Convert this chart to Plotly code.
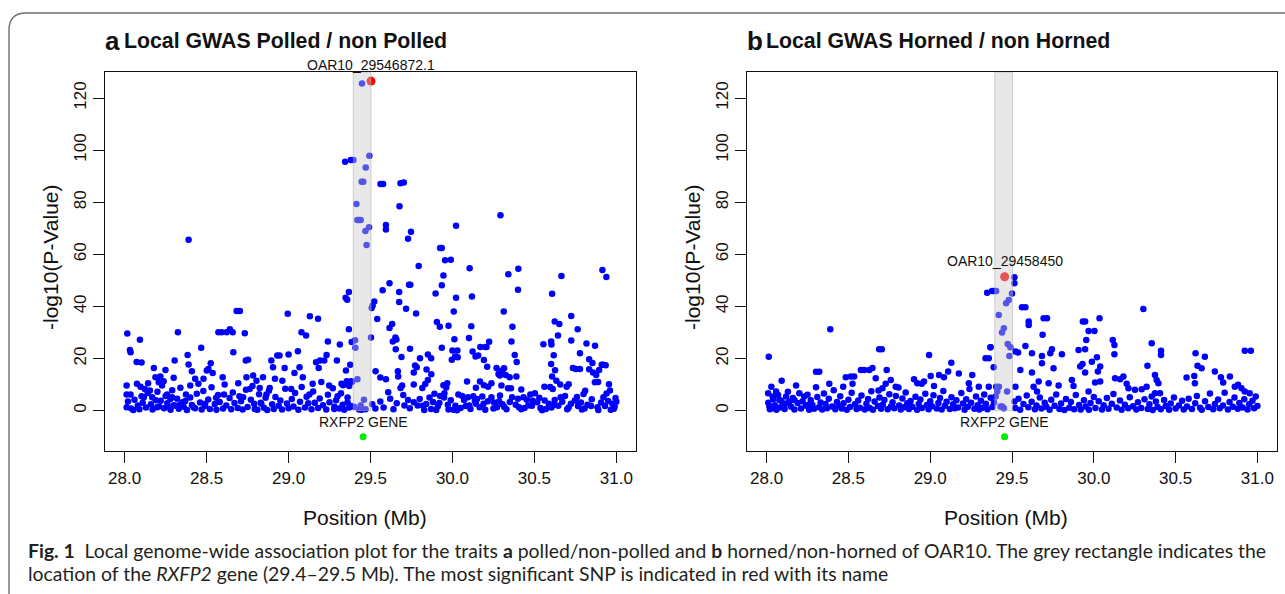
import plotly.graph_objects as go

W, H = 1285, 594

# ---------------- data (Position in Mb, -log10 P) ----------------
polled_points = [
    (28.016, 29.6), (28.032, 23.3), (28.036, 22.4), (28.093, 27.2), (28.073, 18.7), (28.103, 18.5),
    (28.012, 9.6), (28.012, 6.2), (28.036, 6.2), (28.012, 1.3), (28.053, 0.2), (28.075, 10.3),
    (28.097, 9.2), (28.103, 5.5), (28.117, 5.1), (28.123, 8.3), (28.143, 10.5), (28.154, 7.7),
    (28.168, 5.1), (28.178, 16.4), (28.188, 12.8), (28.198, 1.3), (28.208, 10.9), (28.218, 13.1),
    (28.228, 9.6), (28.238, 11.3), (28.249, 15.6), (28.259, 6.2), (28.269, 1.3), (28.279, 4.5),
    (28.289, 5.1), (28.299, 12.6), (28.305, 19.2), (28.313, 1.9), (28.325, 30.1), (28.339, 2.3),
    (28.353, 3.2), (28.374, 6.2), (28.384, 21.4), (28.390, 17.7), (28.400, 9.6), (28.410, 15.1),
    (28.420, 1.3), (28.430, 12.2), (28.450, 10.3), (28.467, 24.1), (28.481, 12.2), (28.491, 2.6),
    (28.501, 15.4), (28.511, 16.0), (28.525, 18.2), (28.537, 14.4), (28.558, 4.9), (28.572, 30.1),
    (28.592, 30.1), (28.598, 12.8), (28.606, 6.2), (28.622, 30.1), (28.642, 31.2), (28.659, 30.1),
    (28.663, 22.4), (28.683, 38.2), (28.703, 38.2), (28.693, 10.5), (28.723, 5.1), (28.733, 29.7),
    (28.739, 19.2), (28.743, 12.8), (28.753, 19.5), (28.763, 8.3), (28.784, 13.5), (28.794, 0.6),
    (28.804, 11.5), (28.824, 8.7), (28.834, 2.6), (28.844, 12.8), (28.865, 6.2), (28.885, 8.7),
    (28.895, 19.2), (28.905, 16.7), (28.917, 12.2), (28.931, 21.2), (28.945, 21.2), (28.962, 11.5),
    (28.976, 16.4), (28.995, 37.2), (29.000, 21.5), (29.016, 8.3), (29.036, 14.4), (29.057, 22.8),
    (29.067, 16.7), (29.079, 30.1), (29.107, 28.8), (29.087, 12.8), (29.130, 36.2), (29.127, 6.2),
    (29.147, 10.3), (29.180, 35.3), (29.168, 18.6), (29.184, 16.4), (29.192, 19.2), (29.218, 19.2),
    (29.232, 21.4), (29.240, 26.5), (29.248, 9.6), (29.279, 0.6), (29.295, 19.2), (29.299, 5.5),
    (29.313, 25.4), (29.323, 10.3), (29.348, 43.3), (29.358, 42.6), (29.368, 45.5), (29.368, 31.2),
    (29.360, 3.2), (29.350, 15.4), (29.376, 17.6), (29.380, 11.3), (29.385, 26.3),
    (28.390, 65.6), (29.345, 95.5), (29.380, 96.2), (29.396, 96.2),
    # dense low band 28.0-29.4
    (28.02, 3.5), (28.04, 0.8), (28.06, 4.2), (28.08, 2.0), (28.09, 0.5), (28.11, 3.0), (28.13, 1.2),
    (28.14, 6.8), (28.16, 2.4), (28.17, 0.4), (28.19, 4.0), (28.20, 7.2), (28.21, 1.6), (28.22, 3.8),
    (28.24, 0.9), (28.25, 5.6), (28.26, 2.8), (28.28, 0.3), (28.29, 7.8), (28.30, 2.1), (28.32, 4.6),
    (28.33, 0.7), (28.34, 8.8), (28.36, 1.5), (28.37, 3.7), (28.38, 0.2), (28.40, 5.0), (28.41, 2.2),
    (28.43, 0.9), (28.44, 6.5), (28.46, 3.1), (28.47, 0.4), (28.48, 7.5), (28.49, 1.8), (28.51, 4.3),
    (28.52, 0.6), (28.53, 9.0), (28.55, 2.5), (28.56, 0.3), (28.57, 6.0), (28.58, 3.3), (28.60, 0.8),
    (28.61, 10.0), (28.62, 2.0), (28.64, 4.8), (28.65, 0.5), (28.66, 7.0), (28.67, 2.9), (28.69, 1.0),
    (28.70, 5.5), (28.71, 3.6), (28.72, 0.4), (28.74, 8.0), (28.75, 1.4), (28.77, 4.2), (28.78, 9.5),
    (28.79, 2.6), (28.81, 0.3), (28.82, 6.3), (28.83, 3.0), (28.85, 1.1), (28.86, 4.9), (28.87, 0.2),
    (28.88, 7.6), (28.90, 2.4), (28.91, 0.6), (28.92, 5.2), (28.94, 1.9), (28.95, 3.9), (28.96, 0.4),
    (28.98, 8.4), (28.99, 2.7), (29.00, 0.9), (29.02, 4.5), (29.03, 1.6), (29.04, 6.8), (29.06, 0.3),
    (29.07, 3.4), (29.08, 9.1), (29.10, 1.2), (29.11, 5.3), (29.12, 2.8), (29.14, 0.5), (29.15, 7.3),
    (29.16, 3.0), (29.18, 1.0), (29.19, 4.7), (29.20, 11.0), (29.21, 2.1), (29.23, 0.4), (29.24, 6.1),
    (29.25, 3.2), (29.27, 8.6), (29.28, 1.5), (29.29, 4.0), (29.31, 0.8), (29.32, 6.7), (29.33, 2.3),
    (29.34, 0.3), (29.36, 5.0), (29.37, 1.2),
    # gene region
    (29.448, 125.6), (29.491, 70.4), (29.469, 69.0), (29.476, 63.6), (29.471, 93.3), (29.493, 97.8),
    (29.446, 87.9), (29.456, 87.9), (29.414, 79.3), (29.430, 73.2), (29.440, 73.2), (29.420, 73.2),
    (29.406, 27.0), (29.408, 24.1), (29.460, 4.2), (29.400, 1.5), (29.430, 0.4), (29.446, 0.3),
    (29.380, 1.8), (29.440, 2.0), (29.470, 0.5), (29.420, 12.0),
    # 29.5 - 31.0
    (29.561, 87.0), (29.577, 87.0), (29.683, 87.3), (29.703, 87.6), (29.677, 78.5), (30.293, 75.0),
    (29.594, 71.3), (29.594, 69.5), (29.747, 68.7), (29.729, 66.0), (30.022, 71.0), (29.925, 62.4),
    (29.935, 62.4), (29.955, 57.7), (29.990, 57.9), (29.794, 55.5), (30.105, 54.7), (30.341, 52.4),
    (30.402, 54.5), (30.400, 46.4), (30.665, 51.7), (30.915, 54.0), (30.939, 51.3), (29.945, 51.9),
    (29.935, 48.1), (29.897, 45.0), (30.119, 43.8), (30.022, 43.3), (29.616, 48.9), (29.574, 46.2),
    (29.735, 48.3), (29.743, 48.3), (29.675, 45.5), (29.675, 41.7), (29.717, 39.1), (29.778, 37.3),
    (29.523, 41.9), (29.513, 40.4), (29.507, 39.4), (29.541, 35.2), (30.608, 44.9), (30.313, 38.1),
    (30.725, 36.3), (30.008, 38.1), (29.905, 34.0), (29.923, 32.2), (29.976, 32.6), (30.115, 32.4),
    (30.366, 32.2), (30.624, 34.2), (30.652, 33.3), (30.764, 31.2), (29.632, 33.3), (29.616, 31.7),
    (29.503, 28.1), (30.012, 27.4), (30.101, 27.9), (30.224, 26.4), (30.208, 24.4), (30.360, 26.5),
    (30.644, 28.8), (30.725, 26.9), (30.818, 25.8), (30.870, 24.9), (30.555, 25.5), (30.602, 26.5),
    (30.604, 25.4), (29.652, 28.1), (29.636, 26.5), (29.658, 27.3), (29.654, 23.6), (29.741, 23.8),
    (29.935, 24.1), (30.000, 23.1), (30.030, 23.1), (30.016, 20.8), (29.996, 19.5), (30.032, 20.5),
    (30.123, 22.7), (30.141, 20.8), (30.157, 21.2), (30.170, 24.4), (30.200, 24.4), (30.380, 21.4),
    (30.392, 18.7), (30.618, 21.3), (30.602, 17.9), (30.778, 22.0), (30.834, 19.7), (30.854, 18.3),
    (30.919, 17.6), (30.935, 17.4), (29.689, 20.6), (29.802, 20.1), (29.850, 21.5), (29.870, 20.1),
    (29.772, 17.3), (29.782, 16.7), (29.842, 15.8), (29.871, 14.0), (30.192, 19.4), (30.212, 16.8),
    (30.269, 16.4), (30.303, 15.4), (30.315, 16.3), (30.289, 13.5), (30.281, 14.1), (30.325, 13.7),
    (30.349, 12.8), (30.390, 13.1), (30.626, 15.5), (30.608, 13.1), (30.634, 11.5), (30.735, 16.4),
    (30.753, 16.0), (30.778, 16.0), (30.834, 15.9), (30.858, 14.6), (30.877, 13.7), (30.895, 15.6),
    (30.911, 17.6), (30.869, 10.9), (30.889, 11.0), (29.531, 15.1), (29.560, 12.7), (29.594, 12.0),
    (29.667, 15.1), (29.669, 13.1), (29.764, 14.6), (29.764, 10.0), (29.850, 11.8), (29.834, 10.2),
    (29.816, 8.7), (29.945, 9.7), (29.968, 10.5), (29.962, 8.9), (30.089, 11.2), (30.143, 8.8),
    (30.168, 11.2), (30.192, 9.7), (30.218, 9.2), (30.238, 10.5), (30.299, 9.6), (30.339, 8.6),
    (30.357, 8.6), (30.420, 8.1), (30.561, 9.2), (30.596, 9.1), (30.612, 8.3), (30.658, 10.0),
    (30.697, 9.2), (30.709, 10.1), (30.810, 7.6), (30.800, 6.4), (30.955, 10.1), (30.961, 7.7),
    (29.693, 9.6), (29.683, 8.7), (29.608, 7.1), (29.333, 9.7), (29.355, 11.3), (29.370, 9.5),
    (29.388, 11.1), (29.511, 2.4), (29.707, 2.0), (29.729, 4.1), (29.764, 3.2), (29.788, 2.0),
    (29.820, 1.9), (29.828, 0.2), (29.860, 5.0), (29.881, 3.3), (29.901, 0.2), (29.911, 1.7),
    (29.925, 5.6), (29.951, 6.7), (29.949, 5.0), (29.972, 2.3), (29.976, 0.4), (30.006, 0.3),
    (30.018, 1.9), (30.028, 0.1), (30.036, 6.2), (30.060, 5.6), (30.071, 4.1), (30.081, 1.8),
    (30.095, 5.1), (30.103, 2.0), (30.127, 5.5), (30.137, 3.7), (30.143, 2.6), (30.166, 1.3),
    (30.182, 5.4), (30.190, 2.6), (30.216, 3.6), (30.238, 5.1), (30.254, 3.1), (30.271, 1.3),
    (30.285, 3.6), (30.305, 2.4), (30.315, 1.5), (30.364, 5.1), (30.386, 2.3), (30.406, 1.3),
    (30.420, 0.5), (30.434, 5.1), (30.454, 4.2), (30.463, 2.0), (30.475, 6.2), (30.485, 1.9),
    (30.503, 6.7), (30.517, 3.2), (30.537, 1.0), (30.547, 0.1), (30.563, 3.9), (30.588, 2.6),
    (30.604, 1.2), (30.624, 4.1), (30.646, 1.9), (30.660, 5.1), (30.687, 5.6), (30.709, 1.2),
    (30.723, 2.6), (30.747, 3.9), (30.766, 1.8), (30.784, 3.1), (30.806, 0.8), (30.824, 2.3),
    (30.846, 1.8), (30.885, 1.3), (30.907, 3.1), (30.921, 5.1), (30.931, 1.8), (30.950, 3.7),
    (30.966, 0.3), (30.976, 2.6),
    (29.53, 0.8), (29.56, 3.5), (29.58, 1.2), (29.62, 4.6), (29.64, 0.5), (29.66, 2.8), (29.70, 6.0),
    (29.74, 0.9), (29.80, 4.5), (29.84, 2.5), (29.87, 0.6), (29.89, 6.5), (29.92, 2.9), (29.99, 4.0),
    (30.05, 1.0), (30.11, 0.6), (30.15, 4.5), (30.20, 0.3), (30.25, 0.8), (30.29, 5.8), (30.33, 0.5),
    (30.35, 3.3), (30.40, 4.6), (30.44, 1.0), (30.49, 3.8), (30.53, 4.9), (30.57, 0.6), (30.62, 2.2),
    (30.67, 3.4), (30.70, 0.5), (30.76, 5.2), (30.79, 0.4), (30.85, 4.4), (30.89, 0.2), (30.94, 6.6),
    (30.99, 1.5), (31.00, 3.4), (30.995, 4.8), (30.985, 0.7),
]
polled_top_snp = ("OAR10_29546872.1", 29.503, 126.5)

horned_points = [
    (28.013, 20.7), (28.092, 11.5), (28.029, 9.2), (28.009, 6.7), (28.037, 5.4), (28.058, 7.3),
    (28.078, 4.1), (28.098, 2.2), (28.017, 1.6), (28.047, 0.9), (28.119, 5.4), (28.139, 3.5),
    (28.18, 9.6), (28.20, 6.7), (28.17, 4.1), (28.23, 5.4), (28.25, 2.2), (28.302, 14.9),
    (28.322, 14.9), (28.302, 9.0), (28.389, 31.2), (28.383, 10.3), (28.468, 9.2), (28.484, 12.8),
    (28.515, 13.1), (28.535, 13.1), (28.525, 10.3), (28.576, 15.6), (28.596, 15.6), (28.627, 15.6),
    (28.647, 16.4), (28.667, 12.4), (28.684, 7.7), (28.688, 23.6), (28.704, 23.6), (28.734, 15.6),
    (28.759, 11.8), (28.728, 10.3), (28.708, 8.6), (28.789, 9.2), (28.806, 8.9), (28.901, 12.0),
    (28.921, 10.5), (28.948, 10.3), (28.962, 11.2), (28.993, 21.4), (29.003, 13.3), (29.023, 9.5),
    (29.054, 13.7), (29.084, 12.8), (29.110, 15.0), (29.129, 18.4), (29.175, 14.3), (29.236, 10.5),
    (29.257, 13.7), (29.297, 9.2), (29.338, 20.1), (29.358, 20.1), (29.369, 24.3), (29.348, 45.3),
    (29.389, 45.9), (29.399, 45.9), (29.420, 9.2), (29.410, 7.3), (29.440, 1.6),
    (28.01, 3.0), (28.02, 0.5), (28.04, 4.4), (28.05, 2.1), (28.06, 0.3), (28.07, 6.0), (28.08, 1.2),
    (28.09, 3.8), (28.11, 0.6), (28.12, 2.7), (28.13, 7.2), (28.15, 1.5), (28.16, 4.8), (28.17, 0.4),
    (28.19, 2.9), (28.21, 0.8), (28.22, 3.6), (28.24, 1.9), (28.25, 6.1), (28.26, 0.3), (28.27, 4.0),
    (28.28, 2.2), (28.29, 0.7), (28.31, 5.2), (28.32, 1.3), (28.33, 3.1), (28.34, 0.4), (28.35, 6.6),
    (28.36, 2.5), (28.37, 0.9), (28.38, 4.6), (28.40, 1.6), (28.41, 7.8), (28.42, 0.5), (28.43, 3.3),
    (28.44, 2.0), (28.45, 5.5), (28.46, 0.8), (28.47, 2.8), (28.49, 0.3), (28.50, 4.2), (28.51, 1.4),
    (28.52, 6.9), (28.54, 2.4), (28.55, 0.6), (28.56, 3.9), (28.57, 1.1), (28.58, 5.8), (28.60, 0.4),
    (28.61, 2.6), (28.62, 4.5), (28.63, 1.0), (28.64, 7.4), (28.65, 0.3), (28.66, 3.5), (28.68, 1.8),
    (28.69, 5.0), (28.70, 0.7), (28.71, 2.3), (28.72, 4.1), (28.74, 0.5), (28.75, 6.3), (28.76, 1.6),
    (28.77, 3.2), (28.78, 0.9), (28.79, 5.6), (28.81, 2.0), (28.82, 0.4), (28.83, 4.7), (28.84, 1.3),
    (28.85, 7.0), (28.86, 2.8), (28.87, 0.6), (28.88, 3.7), (28.89, 1.5), (28.91, 5.3), (28.92, 0.3),
    (28.93, 2.5), (28.94, 4.3), (28.95, 1.0), (28.97, 6.5), (28.98, 2.2), (28.99, 0.5), (29.00, 3.6),
    (29.01, 1.7), (29.02, 5.9), (29.04, 0.8), (29.05, 2.9), (29.06, 4.8), (29.07, 0.4), (29.08, 7.5),
    (29.09, 1.9), (29.10, 3.4), (29.12, 0.6), (29.13, 5.1), (29.14, 2.4), (29.15, 0.9), (29.16, 4.0),
    (29.17, 1.2), (29.19, 6.8), (29.20, 2.7), (29.21, 0.3), (29.22, 4.4), (29.23, 1.5), (29.24, 8.3),
    (29.25, 3.0), (29.27, 0.7), (29.28, 5.4), (29.29, 2.1), (29.30, 0.4), (29.31, 3.8), (29.32, 1.1),
    (29.33, 6.2), (29.34, 2.6), (29.35, 0.5), (29.37, 4.9), (29.38, 1.4), (29.39, 3.1),
    # gene region and right side
    (29.515, 51.2), (29.515, 48.9), (29.378, 45.9), (29.403, 45.9), (29.500, 45.0), (29.480, 42.5),
    (29.464, 41.2), (29.419, 36.7), (29.450, 31.6), (29.439, 30.0), (29.474, 25.6), (29.490, 24.3),
    (29.484, 21.0), (29.561, 39.7), (29.582, 39.7), (29.602, 34.2), (29.602, 32.9), (29.693, 35.5),
    (29.714, 35.5), (29.687, 29.1), (29.582, 24.8), (29.521, 22.7), (29.537, 22.3), (29.622, 22.0),
    (29.683, 21.0), (29.683, 18.2), (29.744, 23.6), (29.734, 22.0), (29.754, 16.3), (29.805, 21.6),
    (29.907, 23.3), (29.947, 23.6), (29.933, 34.2), (29.947, 34.2), (29.968, 30.6), (30.004, 30.6),
    (30.035, 35.5), (29.954, 27.1), (30.019, 20.5), (29.988, 18.8), (29.931, 17.9), (29.917, 16.9),
    (30.039, 16.9), (30.025, 15.0), (29.947, 14.6), (30.116, 27.1), (30.126, 25.2), (30.126, 21.6),
    (30.303, 39.0), (30.354, 25.9), (30.411, 23.0), (30.411, 21.4), (30.328, 17.2), (30.374, 13.7),
    (30.384, 11.8), (30.395, 10.5), (30.622, 22.0), (30.679, 20.7), (30.634, 17.2), (30.659, 16.3),
    (30.567, 12.7), (30.614, 13.3), (30.618, 10.5), (30.740, 15.0), (30.777, 12.8), (30.791, 10.8),
    (30.832, 13.1), (30.923, 23.0), (30.960, 23.0), (30.862, 9.2), (30.882, 9.9), (30.903, 8.6),
    (30.923, 7.3), (30.953, 6.7), (29.388, 16.7), (29.368, 24.3), (29.632, 9.2), (29.663, 11.2),
    (29.653, 7.3), (29.724, 10.5), (29.785, 9.6), (29.866, 11.8), (29.876, 9.5), (29.968, 7.3),
    (30.008, 10.8), (30.039, 11.2), (30.130, 12.4), (30.161, 12.0), (30.181, 13.1), (30.201, 10.3),
    (30.212, 8.6), (30.252, 8.0), (30.293, 8.2), (30.323, 9.2), (30.354, 5.4), (30.374, 6.7),
    (30.405, 6.7), (29.470, 7.3), (29.521, 9.2), (29.551, 15.6), (29.622, 14.6), (29.516, 3.5),
    (29.358, 9.2), (29.403, 9.2), (29.400, 5.4), (29.430, 1.6), (29.450, 0.9),
    (29.52, 1.0), (29.54, 4.6), (29.55, 0.3), (29.57, 2.5), (29.59, 5.8), (29.60, 1.3), (29.62, 3.4),
    (29.64, 0.5), (29.65, 2.0), (29.67, 5.0), (29.68, 0.8), (29.70, 3.0), (29.71, 1.5), (29.73, 0.3),
    (29.74, 4.2), (29.76, 1.9), (29.77, 6.2), (29.79, 0.6), (29.80, 2.7), (29.82, 0.2), (29.83, 4.5),
    (29.85, 1.1), (29.86, 3.3), (29.88, 0.5), (29.89, 6.0), (29.91, 2.2), (29.92, 0.4), (29.94, 4.0),
    (29.95, 1.6), (29.97, 0.3), (29.98, 2.9), (30.00, 5.2), (30.01, 1.0), (30.03, 3.6), (30.05, 0.4),
    (30.06, 2.1), (30.08, 4.8), (30.09, 0.7), (30.11, 2.6), (30.12, 6.4), (30.14, 1.2), (30.16, 3.9),
    (30.17, 0.3), (30.19, 2.3), (30.21, 0.9), (30.22, 5.1), (30.24, 1.7), (30.26, 0.4), (30.27, 3.2),
    (30.29, 1.0), (30.31, 4.4), (30.33, 0.6), (30.34, 2.4), (30.36, 0.2), (30.38, 3.5), (30.39, 1.4),
    (30.41, 0.5), (30.43, 4.1), (30.44, 1.8), (30.46, 0.3), (30.47, 2.7), (30.49, 5.0), (30.50, 0.8),
    (30.52, 2.0), (30.54, 3.8), (30.55, 0.4), (30.57, 1.6), (30.58, 4.6), (30.60, 0.6), (30.62, 2.8),
    (30.63, 5.6), (30.65, 1.1), (30.66, 0.3), (30.68, 3.6), (30.70, 1.4), (30.71, 6.6), (30.73, 0.5),
    (30.74, 2.5), (30.76, 4.3), (30.77, 0.9), (30.79, 2.0), (30.80, 6.9), (30.82, 0.4), (30.83, 3.3),
    (30.85, 1.5), (30.86, 5.0), (30.88, 0.7), (30.89, 2.9), (30.91, 1.2), (30.92, 4.4), (30.94, 0.4),
    (30.95, 2.4), (30.97, 3.8), (30.98, 0.9), (30.99, 5.4), (31.00, 1.8),
]
horned_top_snp = ("OAR10_29458450", 29.455, 51.4)

gene_name = "RXFP2 GENE"
gene_marker = (29.455, -10.0)
gene_start, gene_end = 29.395, 29.503
gene_rect_top = 130

x_ticks = [28.0, 28.5, 29.0, 29.5, 30.0, 30.5, 31.0]
y_ticks = [0, 20, 40, 60, 80, 100, 120]
x_range = [27.88, 31.12]
y_range = [-15.5, 130]

panel_titles = [("a", "Local GWAS Polled / non Polled"), ("b", "Local GWAS Horned / non Horned")]

# ---------------- layout helpers (pixel -> paper) ----------------
def px(x):
    return x / W

def py(y):
    return 1 - y / H

FONT = "Liberation Sans, Arial, sans-serif"
BLUE = "#0000FF"

panels = [
    dict(points=polled_points, snp=polled_top_snp, xd=(105, 636), xa="x", ya="y"),
    dict(points=horned_points, snp=horned_top_snp, xd=(747, 1277), xa="x2", ya="y2"),
]
top_px, bot_px = 72, 451

fig = go.Figure()
annotations = []
shapes = []

for i, p in enumerate(panels):
    xs = [v[0] for v in p["points"]]
    ys = [v[1] for v in p["points"]]
    fig.add_trace(go.Scatter(x=xs, y=ys, mode="markers", xaxis=p["xa"], yaxis=p["ya"],
                             marker=dict(color=BLUE, size=6.5, line=dict(width=0)),
                             showlegend=False, hoverinfo="skip"))
    name, sx, sy = p["snp"]
    fig.add_trace(go.Scatter(x=[sx], y=[sy], mode="markers", xaxis=p["xa"], yaxis=p["ya"],
                             marker=dict(color="#FF0000", size=9, line=dict(width=0)),
                             showlegend=False, hoverinfo="skip", cliponaxis=False))
    fig.add_trace(go.Scatter(x=[gene_marker[0]], y=[gene_marker[1]], mode="markers",
                             xaxis=p["xa"], yaxis=p["ya"],
                             marker=dict(color="#00EE00", size=7, line=dict(width=0)),
                             showlegend=False, hoverinfo="skip"))
    shapes.append(dict(type="rect", xref=p["xa"], yref=p["ya"], x0=gene_start, x1=gene_end,
                       y0=0, y1=gene_rect_top, layer="above",
                       fillcolor="rgba(200,200,200,0.42)",
                       line=dict(color="rgba(170,170,170,0.5)", width=1)))
    annotations.append(dict(x=sx, y=sy, xref=p["xa"], yref=p["ya"], text=name,
                            showarrow=False, yanchor="middle", xanchor="center", yshift=16,
                            font=dict(family=FONT, size=14, color="#111")))
    annotations.append(dict(x=gene_marker[0], y=gene_marker[1], xref=p["xa"], yref=p["ya"],
                            text=gene_name, showarrow=False, yanchor="middle", xanchor="center",
                            yshift=15, font=dict(family=FONT, size=14, color="#111")))
    x0, x1 = p["xd"]
    letter, title = panel_titles[i]
    annotations.append(dict(x=px(x0 - 2), y=py(41), xref="paper", yref="paper", text="<b>" + letter + "</b>",
                            showarrow=False, xanchor="left", yanchor="middle",
                            font=dict(family=FONT, size=26, color="#111")))
    annotations.append(dict(x=px(x0 + 17), y=py(41), xref="paper", yref="paper", text="<b>" + title + "</b>",
                            showarrow=False, xanchor="left", yanchor="middle",
                            font=dict(family=FONT, size=21.3, color="#111")))
    annotations.append(dict(x=px(x0 - 55), y=py(257), xref="paper", yref="paper", text="-log10(P-Value)",
                            showarrow=False, textangle=-90, xanchor="center", yanchor="middle",
                            font=dict(family=FONT, size=21, color="#111")))
    annotations.append(dict(x=px((x0 + x1) / 2 - 6), y=py(517), xref="paper", yref="paper",
                            text="Position (Mb)", showarrow=False, xanchor="center", yanchor="middle",
                            font=dict(family=FONT, size=21, color="#111")))

axis_common = dict(showline=True, mirror=True, linecolor="#111", linewidth=1.4, ticks="outside",
                   ticklen=11, tickwidth=1.4, tickcolor="#111", showgrid=False, zeroline=False,
                   tickfont=dict(family=FONT, size=17, color="#111"))

layout_axes = {}
for i, p in enumerate(panels):
    sfx = "" if i == 0 else "2"
    layout_axes["xaxis" + sfx] = dict(domain=[px(p["xd"][0]), px(p["xd"][1])], range=x_range,
                                      tickvals=x_ticks, ticktext=["%.1f" % t for t in x_ticks],
                                      anchor="y" + sfx, **axis_common)
    layout_axes["yaxis" + sfx] = dict(domain=[py(bot_px), py(top_px)], range=y_range,
                                      tickvals=y_ticks, tickangle=-90,
                                      anchor="x" + sfx, **axis_common)

caption_1 = ("<b>Fig. 1</b>  Local genome-wide association plot for the traits <b>a</b> polled/non-polled "
             "and <b>b</b> horned/non-horned of OAR10. The grey rectangle indicates the")
caption_2 = ("location of the <i>RXFP2</i> gene (29.4–29.5 Mb). The most significant SNP is indicated "
             "in red with its name")
for txt, yy in [(caption_1, 550), (caption_2, 573)]:
    annotations.append(dict(x=px(26), y=py(yy), xref="paper", yref="paper", text=txt, showarrow=False,
                            xanchor="left", yanchor="middle",
                            font=dict(family="Lato, sans-serif", size=19.4, color="#231f20")))

# rounded frame around the figure
frame = (f"M {px(9)},{py(600)} L {px(9)},{py(30)} Q {px(9)},{py(13)} {px(26)},{py(13)} "
         f"L {px(1290)},{py(13)}")
shapes.append(dict(type="path", xref="paper", yref="paper", path=frame,
                   line=dict(color="#6d6e71", width=1.4), layer="below"))

fig.update_layout(width=W, height=H, margin=dict(l=0, r=0, t=0, b=0), autosize=False,
                  paper_bgcolor="white", plot_bgcolor="white", showlegend=False,
                  annotations=annotations, shapes=shapes, **layout_axes)

fig.write_html("out.html", config={"displayModeBar": False},
               post_script="document.body.style.margin='0';document.body.style.overflow='hidden';")
